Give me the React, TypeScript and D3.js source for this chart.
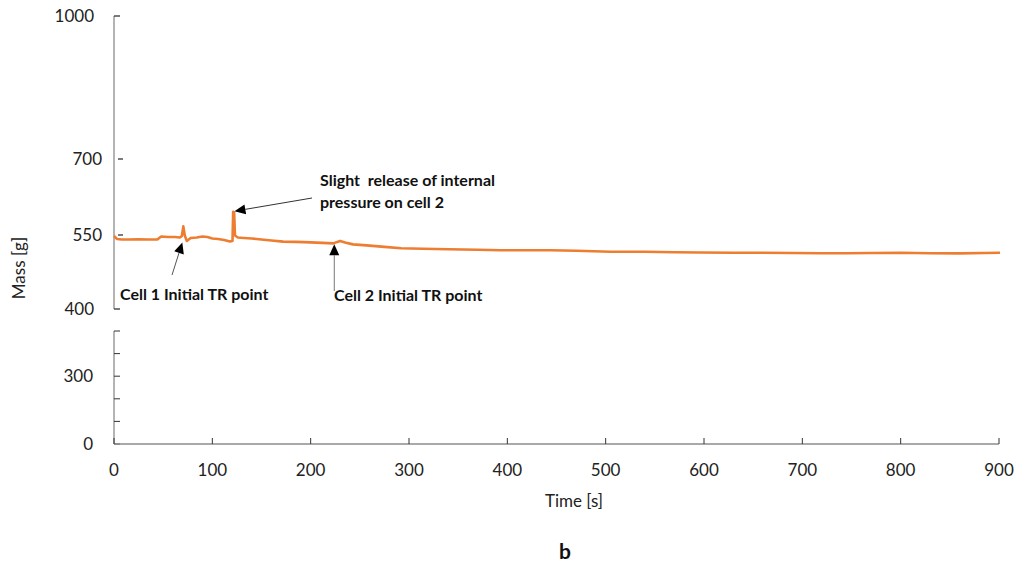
import React from 'react';
import * as d3 from 'd3';

const width = 1018;
const height = 562;

// time [s] and mass [g]
const times = [0, 3, 8, 15, 25, 35, 44, 48, 55, 62, 67, 69, 70.5, 72, 74, 78, 84, 90, 95, 100, 106, 112, 118, 120.5, 121.2, 122.2, 123, 126, 132, 140, 150, 160, 172, 185, 200, 212, 223, 227, 230, 235, 243, 257, 275, 292, 314, 340, 370, 393, 420, 444, 470, 505, 540, 570, 596, 630, 660, 690, 718, 745, 770, 800, 830, 860, 885, 901];
const mass = [548, 542, 541, 541, 541.5, 541, 541, 547, 546, 546, 545, 548, 567, 549, 538, 544, 545, 547, 546, 543, 542, 540, 537, 538, 596, 594, 549, 545, 544, 543, 541, 539, 536.5, 536, 535, 534, 533, 536, 538, 535, 531, 529, 526, 523, 522, 521, 520, 519, 519, 519, 518, 516, 516, 515, 514.5, 514, 514, 513.5, 513, 513, 513.5, 514, 513, 512.8, 513.5, 514];

const xTicks = [0, 100, 200, 300, 400, 500, 600, 700, 800, 900];
const upperTicks = [1000, 700, 550, 400];
const lowerTicks = [0, 100, 200, 300, 400, 500];
const lowerLabels = [0, 300];

const x = d3.scaleLinear().domain([0, 900]).range([114, 999]);
// upper (broken) segment of the mass axis
const yUp = d3.scaleLinear().domain([400, 550, 700, 1000]).range([309, 235, 159, 16]);
const yLow = d3.scaleLinear().domain([0, 500]).range([444, 331]);

const font = 'Lato, "Open Sans", sans-serif';
const axisColor = '#8c8c8c';

const Arrow = ({ x1, y1, x2, y2, color }) => {
  const a = Math.atan2(y2 - y1, x2 - x1);
  const L = 11, W = 5;
  const bx = x2 - L * Math.cos(a), by = y2 - L * Math.sin(a);
  const px = -Math.sin(a) * W, py = Math.cos(a) * W;
  return (
    <g>
      <line x1={x1} y1={y1} x2={bx} y2={by} stroke={color} strokeWidth={1} />
      <polygon points={`${x2},${y2} ${bx + px},${by + py} ${bx - px},${by - py}`} fill="#000" />
    </g>
  );
};

const App = () => {
  const line = d3.line<number>()
    .x((d, i) => x(times[i]))
    .y(d => yUp(d));

  return (
    <svg width={width} height={height} style={{ position: 'absolute', left: 0, top: 0 }}>
      <rect width={width} height={height} fill="#fff" />
      {/* upper axis segment */}
      <line x1={114} x2={114} y1={yUp(1000)} y2={yUp(400)} stroke={axisColor} strokeWidth={1.3} />
      {upperTicks.map(t => (
        <g key={t}>
          {t === 1000 || t === 400
            ? <line x1={114} x2={120} y1={yUp(t)} y2={yUp(t)} stroke="#333" strokeWidth={1.3} />
            : <line x1={118} x2={123} y1={yUp(t)} y2={yUp(t)} stroke="#333" strokeWidth={1.3} />}
          <text x={t === 700 || t === 550 ? 102 : 94} y={yUp(t)} dy="0.35em" textAnchor="end"
            fontFamily={font} fontSize={17} fill="#222">{t}</text>
        </g>
      ))}
      {/* lower axis segment */}
      <line x1={114} x2={114} y1={yLow(500)} y2={yLow(0)} stroke={axisColor} strokeWidth={1.3} />
      {lowerTicks.map(t => (
        <line key={t} x1={114} x2={120} y1={yLow(t)} y2={yLow(t)} stroke="#333" strokeWidth={1} />
      ))}
      {lowerLabels.map(t => (
        <text key={t} x={93} y={yLow(t)} dy="0.35em" textAnchor="end"
          fontFamily={font} fontSize={17} fill="#222">{t}</text>
      ))}
      {/* x axis */}
      <line x1={114} x2={999} y1={444} y2={444} stroke={axisColor} strokeWidth={1.3} />
      {xTicks.map(t => (
        <g key={t}>
          <line x1={x(t)} x2={x(t)} y1={444} y2={438} stroke="#333" strokeWidth={1} />
          <text x={x(t)} y={470} dy="0.35em" textAnchor="middle" fontFamily={font} fontSize={17} fill="#222">{t}</text>
        </g>
      ))}
      <text x={574} y={501} dy="0.35em" textAnchor="middle" fontFamily={font} fontSize={17} fill="#222">Time [s]</text>
      <text transform="translate(19,268) rotate(-90)" dy="0.35em" textAnchor="middle" fontFamily={font} fontSize={17} fill="#222">Mass [g]</text>
      <text x={565} y={559} textAnchor="middle" fontFamily={font} fontSize={21} fontWeight="bold" fill="#111">b</text>

      <path d={line(mass) || ''} fill="none" stroke="#ED7D31" strokeWidth={2.6} strokeLinejoin="round" />

      {/* annotations */}
      <Arrow x1={172} y1={275} x2={x(69.5)} y2={yUp(535)} color="#555" />
      <Arrow x1={312} y1={198} x2={x(122.5)} y2={yUp(597)} color="#333" />
      <Arrow x1={x(224)} y1={291} x2={x(224)} y2={yUp(531)} color="#777" />
      <g fontFamily={font} fontSize={16} fontWeight="bold" fill="#111">
        <text x={120} y={294} dy="0.35em">Cell 1 Initial TR point</text>
        <text x={334} y={295} dy="0.35em">Cell 2 Initial TR point</text>
        <text x={320} y={180} dy="0.35em" xmlSpace="preserve">Slight  release of internal</text>
        <text x={320} y={202} dy="0.35em">pressure on cell 2</text>
      </g>
    </svg>
  );
};

export default App;
